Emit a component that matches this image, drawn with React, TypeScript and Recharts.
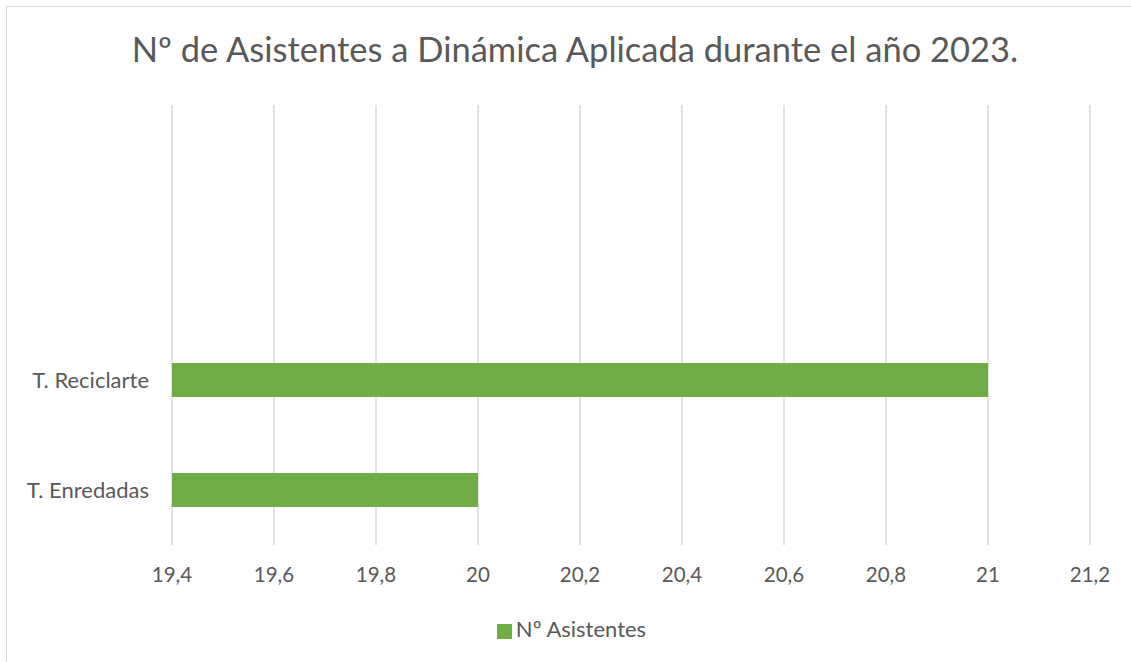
import { Bar, BarChart, CartesianGrid, Legend, XAxis, YAxis } from "recharts";

const categories = ["", " ", "T. Reciclarte", "T. Enredadas"];
const asistentes = [null, null, 21, 20];
const xTicks = [19.4, 19.6, 19.8, 20, 20.2, 20.4, 20.6, 20.8, 21, 21.2];

const data = categories.map((name, i) => ({ name, asistentes: asistentes[i] }));

const FONT = "Lato, 'Open Sans', sans-serif";
const TEXT = "#595959";

export default function App() {
  return (
    <div
      style={{
        position: "absolute",
        left: 0,
        top: 0,
        width: 1131,
        height: 662,
        background: "#fff",
        fontFamily: FONT,
      }}
    >
      <div
        style={{
          position: "absolute",
          left: 6,
          top: 6,
          right: 0,
          bottom: 0,
          border: "1px solid #d9d9d9",
          borderRight: "none",
          borderBottom: "none",
        }}
      />
      <div
        style={{
          position: "absolute",
          top: 28,
          left: 0,
          width: 1150,
          textAlign: "center",
          fontSize: 34.5,
          color: TEXT,
        }}
      >
        Nº de Asistentes a Dinámica Aplicada durante el año 2023.
      </div>
      <div style={{ position: "absolute", left: 0, top: 0 }}>
        <BarChart
          width={1131}
          height={662}
          data={data}
          layout="vertical"
          barCategoryGap="34.5%"
          margin={{ top: 105, right: 41, bottom: 0, left: 0 }}
        >
          <CartesianGrid stroke="#d9d9d9" strokeWidth={1.5} horizontal={false} />
          <XAxis
            type="number"
            domain={[19.4, 21.2]}
            ticks={xTicks}
            interval={0}
            tickFormatter={(v: number) => String(v).replace(".", ",")}
            axisLine={false}
            tickLine={false}
            tickSize={0}
            tickMargin={22}
            height={90}
            tick={{ fill: TEXT, fontSize: 20.5, fontFamily: FONT }}
          />
          <YAxis
            type="category"
            dataKey="name"
            width={172}
            axisLine={false}
            tickLine={false}
            tickSize={0}
            tickMargin={23}
            tick={{ fill: TEXT, fontSize: 22, fontFamily: FONT }}
          />
          <Legend
            verticalAlign="bottom"
            iconType="square"
            iconSize={15}
            wrapperStyle={{ bottom: 20, left: 22, width: 1109, fontSize: 22, fontFamily: FONT }}
            formatter={(value: string) => <span style={{ color: TEXT }}>{value}</span>}
          />
          <Bar dataKey="asistentes" name="Nº Asistentes" fill="#70ad47" isAnimationActive={false} />
        </BarChart>
      </div>
    </div>
  );
}
